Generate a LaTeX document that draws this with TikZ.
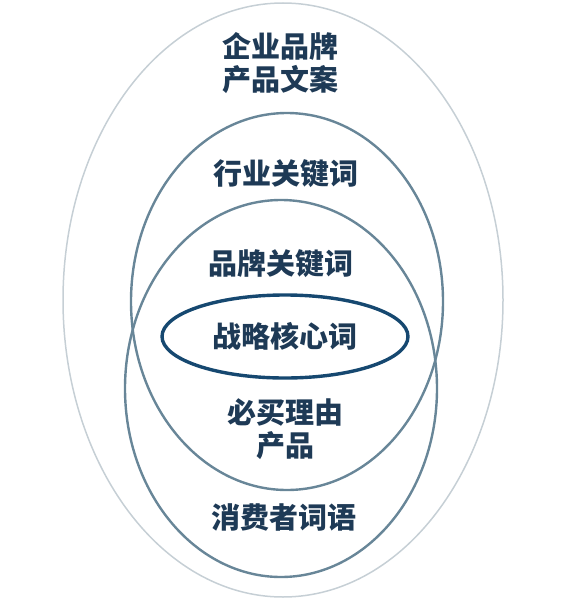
\documentclass[tikz,border=0pt]{standalone}
\usepackage{fontspec}
\newfontfamily\cjk{Noto Sans CJK SC}
\usepackage{tikz}
\usetikzlibrary{positioning,shapes.geometric}
\definecolor{ringgray}{RGB}{198,207,213}
\definecolor{ringblue}{RGB}{104,134,152}
\definecolor{corenavy}{RGB}{22,72,112}
\definecolor{textnavy}{RGB}{30,58,86}
\tikzstyle{ring} = [ellipse, draw=ringblue, line width=2.4pt, inner sep=0pt]
\tikzstyle{word} = [text=textnavy, font=\cjk\bfseries\fontsize{29}{33}\selectfont, align=center, inner sep=0pt]

\begin{document}
\begin{tikzpicture}[x=1pt,y=-1pt]
      \useasboundingbox (0,0) rectangle (587,605);
      % rings
      \node[ring, draw=ringgray, line width=1.5pt, minimum width=440pt, minimum height=594pt] (OuterRing) at (283,300) {};
      \node[ring, minimum width=312pt, minimum height=377pt] (IndustryRing) at (287,301.5) {};
      \node[ring, minimum width=312pt, minimum height=377pt] (ConsumerRing) at (281,388.5) {};
      \node[ring, draw=corenavy, line width=3.4pt, minimum width=246pt, minimum height=83pt] (CoreRing) at (285,336.5) {};
      %
      \node[word] (CompanyText) at (280,63) {企业品牌\\产品文案};
      \node[word] (IndustryText) at (286,174) {行业关键词};
      \node[word] (BrandText) at (281,264) {品牌关键词};
      \node[word] (CoreText) at (CoreRing) {战略核心词};
      \node[word] (ReasonText) at (285,429) {必买理由\\产品};
      \node[word] (ConsumerText) at (284,517) {消费者词语};
\end{tikzpicture}
\end{document}
